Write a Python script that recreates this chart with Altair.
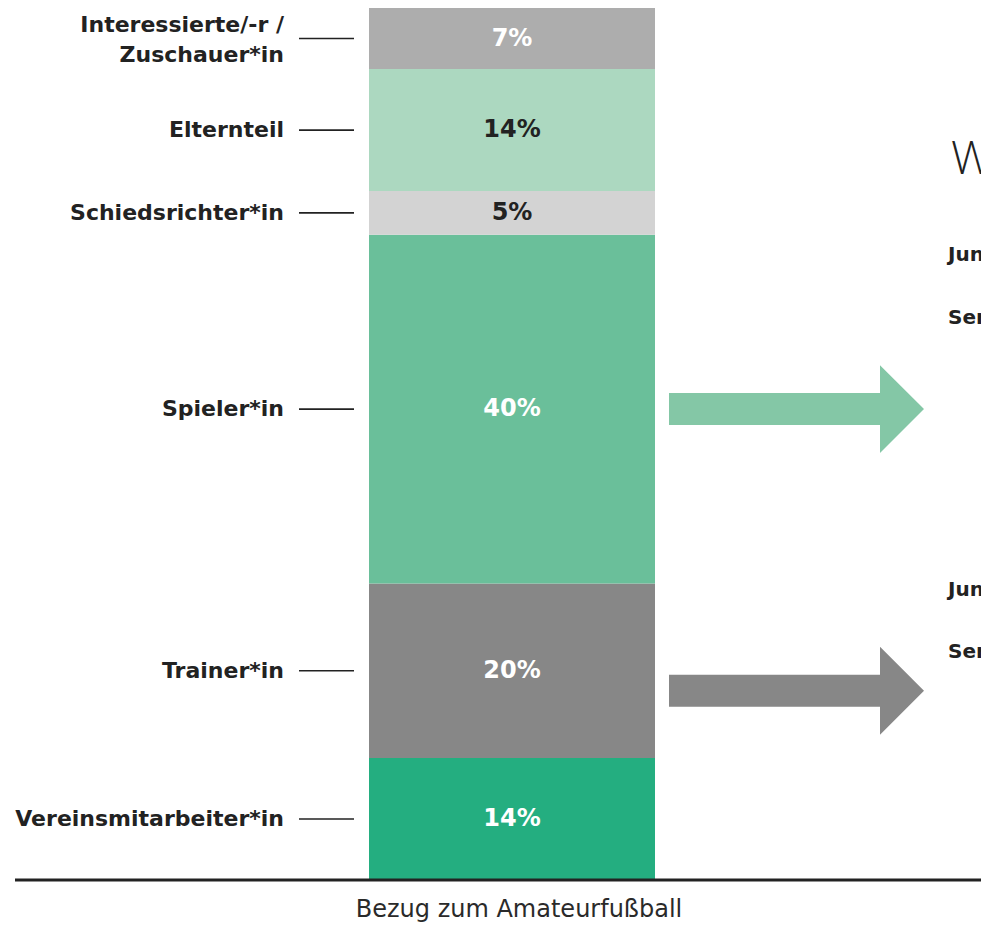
import altair as alt
import pandas as pd

# ---- data (bottom to top of the stacked bar) ----
categories = [
    "Vereinsmitarbeiter*in",
    "Trainer*in",
    "Spieler*in",
    "Schiedsrichter*in",
    "Elternteil",
    "Interessierte/-r /\nZuschauer*in",
]
shares = [14, 20, 40, 5, 14, 7]
bar_colors = ["#24ae80", "#878787", "#6abf9a", "#d3d3d3", "#acd8c0", "#adadad"]
label_colors = ["#ffffff", "#ffffff", "#ffffff", "#222222", "#222222", "#ffffff"]
x_label = "Bezug zum Amateurfußball"
right_header = "Wer spielt?"
right_rows_text = ["Junior*innen", "Senior*innen", "Junior*innen", "Senior*innen"]

df = pd.DataFrame({"category": categories, "share": shares,
                   "fill": bar_colors, "tcolor": label_colors})
df["end"] = df["share"].cumsum()
df["start"] = df["end"] - df["share"]
df["mid"] = (df["start"] + df["end"]) / 2
df["pct"] = df["share"].astype(str) + "%"
df["multi"] = df["category"].str.contains("\n")

W, H = 966, 872
BOLD = "DejaVu Sans"
ysc = alt.Scale(domain=[0, 100], nice=False, zero=True)

base = alt.Chart(df)

bars = base.mark_rect().encode(
    x=alt.value(354), x2=alt.value(640),
    y=alt.Y("start:Q", scale=ysc, axis=None), y2="end:Q",
    color=alt.Color("fill:N", scale=None),
)

pct = base.mark_text(font=BOLD, fontSize=24, fontWeight="bold", baseline="middle").encode(
    x=alt.value(497),
    y=alt.Y("mid:Q", scale=ysc),
    text="pct:N",
    color=alt.Color("tcolor:N", scale=None),
)

label_style = dict(font=BOLD, fontSize=22, fontWeight="bold", align="right",
                   baseline="middle", lineBreak="\n", lineHeight=30, color="#222222")

labels = base.transform_filter("!datum.multi").mark_text(**label_style).encode(
    x=alt.value(269), y=alt.Y("mid:Q", scale=ysc), text="category:N")

labels_multi = base.transform_filter("datum.multi").mark_text(dy=-14, **label_style).encode(
    x=alt.value(269), y=alt.Y("mid:Q", scale=ysc), text="category:N")

ticks = base.mark_rule(color="#222222", strokeWidth=1.6).encode(
    x=alt.value(284), x2=alt.value(339),
    y=alt.Y("mid:Q", scale=ysc),
)

baseline = alt.Chart(pd.DataFrame({"v": [0]})).mark_rule(color="#222222", strokeWidth=3).encode(
    x=alt.value(0), x2=alt.value(W),
    y=alt.Y("v:Q", scale=ysc),
)

xtitle = alt.Chart(pd.DataFrame({"t": [x_label]})).mark_text(
    font="DejaVu Sans", fontSize=24, color="#2a2a2a", baseline="alphabetic").encode(
    x=alt.value(504), y=alt.value(H + 37), text="t:N")

arrow_path = ("M -1 -0.1255 L 0.655 -0.1255 L 0.655 -0.345 L 1 0 "
              "L 0.655 0.345 L 0.655 0.1255 L -1 0.1255 Z")

arrow_green = base.transform_filter(alt.datum.category == "Spieler*in").mark_point(
    shape=arrow_path, size=255 * 255, filled=True, opacity=1, color="#84c7a6",
    strokeWidth=0).encode(
    x=alt.value(781.5), y=alt.Y("mid:Q", scale=ysc))

arrow_gray = base.transform_filter(alt.datum.category == "Trainer*in").mark_point(
    shape=arrow_path, size=255 * 255, filled=True, opacity=1, color="#878787",
    strokeWidth=0, yOffset=20).encode(
    x=alt.value(781.5), y=alt.Y("mid:Q", scale=ysc))

right_head = alt.Chart(pd.DataFrame({"t": [right_header]})).mark_text(
    font="Open Sans", fontSize=46, fontWeight=300, color="#222222", align="left",
    baseline="middle", clip=True).encode(
    x=alt.value(936), y=alt.value(152), text="t:N")

right_rows = pd.DataFrame({"t": right_rows_text, "py": [247, 310, 582, 644]})
right_text = alt.Chart(right_rows).mark_text(
    font=BOLD, fontSize=20, fontWeight="bold", color="#222222", align="left",
    baseline="middle", clip=True).encode(
    x=alt.value(933), y=alt.Y("py:Q", scale=None), text="t:N")

chart = alt.layer(
    bars, pct, labels, labels_multi, ticks, baseline, xtitle, arrow_green, arrow_gray,
    right_head, right_text,
).properties(
    width=W, height=H,
    padding={"left": 7, "top": 0, "right": 0, "bottom": 42},
    autosize=alt.AutoSizeParams(type="none"),
    background="#ffffff",
).configure_view(strokeWidth=0)

chart.save("out.html", embed_options={"renderer": "svg", "actions": False})
